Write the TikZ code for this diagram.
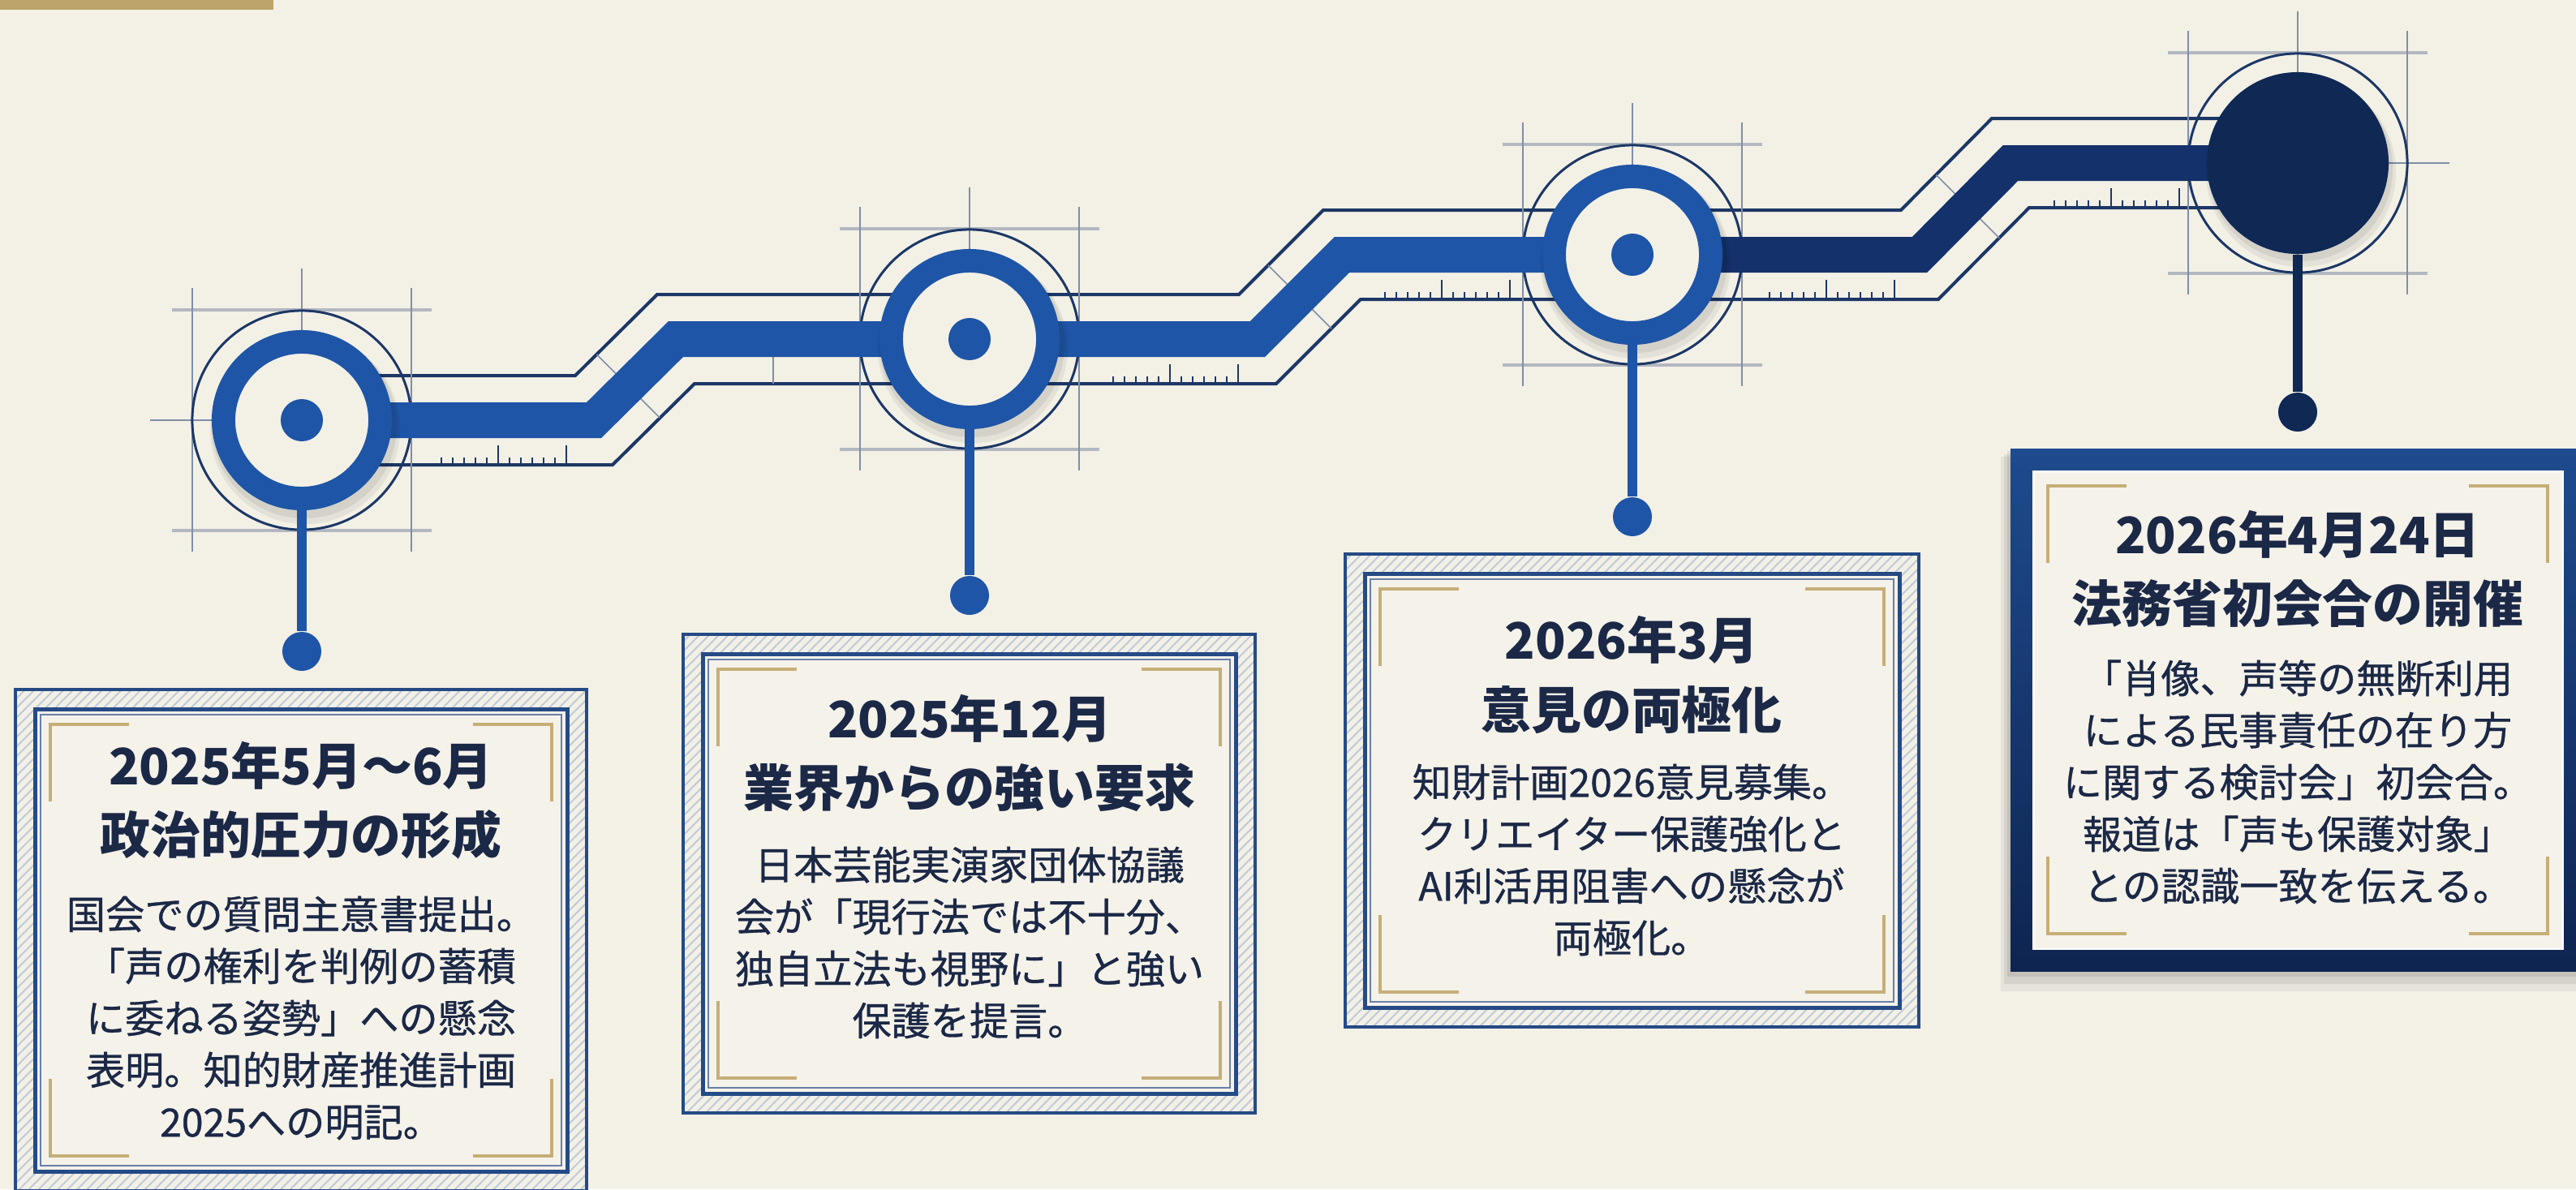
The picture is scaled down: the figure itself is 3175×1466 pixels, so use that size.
\documentclass[tikz,border=0pt]{standalone}
\usepackage{fontspec}
\setmainfont{Noto Sans CJK JP}
\newfontfamily\bodyf{Noto Sans CJK JP}[BoldFont={Noto Sans CJK JP},BoldFeatures={FakeBold=0.7}]
\usetikzlibrary{patterns.meta}
\newlength\pxu \setlength\pxu{0.01cm}
\definecolor{bgc}{HTML}{F3F0E6}
\definecolor{cardc}{HTML}{F5F2EA}
\definecolor{bandblue}{HTML}{1E55A6}
\definecolor{bandnavy}{HTML}{15316B}
\definecolor{deepnavy}{HTML}{0F2854}
\definecolor{linenavy}{HTML}{1C3766}
\definecolor{framec}{HTML}{254A85}
\definecolor{crossvc}{HTML}{7F8FA6}
\definecolor{crosshc}{HTML}{A3ABB7}
\definecolor{hatchc}{HTML}{BFCADA}
\definecolor{goldc}{HTML}{C6AE78}
\definecolor{barc}{HTML}{BCA46A}
\definecolor{textc}{HTML}{1B2846}
\definecolor{shadetop}{HTML}{1E4B8E}
\definecolor{shadebot}{HTML}{0E2450}
\tikzset{
  thinring/.style={draw=linenavy, line width=3\pxu},
  ringnode/.style={circle, inner sep=0pt, minimum size=1.93cm, draw=bandblue, line width=29\pxu, fill=bgc},
  endnode/.style={circle, inner sep=0pt, minimum size=2.24cm, fill=deepnavy},
  cdot/.style={circle, inner sep=0pt, minimum size=0.52cm, fill=bandblue},
  pindot/.style={circle, inner sep=0pt, minimum size=0.48cm, fill=#1},
  stemline/.style={line width=12\pxu, draw=#1},
  bandline/.style={line width=44\pxu, draw=#1, line join=miter},
  outl/.style={line width=4\pxu, draw=linenavy, line join=miter},
  crossv/.style={line width=1.6\pxu, draw=crossvc},
  crossh/.style={line width=4\pxu, draw=crosshc, opacity=.8},
  rulertick/.style={line width=1.8\pxu, draw=linenavy},
  bracket/.style={line width=4.5\pxu, draw=goldc},
  ttl/.style={text=textc, align=center, inner sep=0pt, font=\fontsize{17.6pt}{24.2pt}\selectfont\bfseries},
  bodytxt/.style={text=textc, align=center, inner sep=0pt, font=\bodyf\fontsize{13.7pt}{18.2pt}\selectfont\bfseries},
}
\newcommand\ruler[2]{%
  \foreach \k in {0,...,11}{%
    \pgfmathsetmacro\rtx{#1+14*\k}%
    \ifnum\k=5 \def\tkh{24}\else\ifnum\k=11 \def\tkh{24}\else\def\tkh{9}\fi\fi
    \draw[rulertick] (\rtx,#2) -- (\rtx,#2-\tkh);
  }%
}
\newcommand\crosshair[2]{%
  \draw[crossh] (#1-160,#2-136) -- (#1+160,#2-136);
  \draw[crossh] (#1-160,#2+136) -- (#1+160,#2+136);
  \draw[crossv] (#1-135,#2-163) -- (#1-135,#2+162);
  \draw[crossv] (#1+135,#2-163) -- (#1+135,#2+162);
  \draw[crossv] (#1,#2-187) -- (#1,#2+187);
  \draw[crossv] (#1-187,#2) -- (#1+187,#2);
}
\newcommand\card[4]{%
  \fill[bgc] (#1,#2) rectangle (#3,#4);
  \fill[pattern={Lines[angle=45,distance=2.4pt,line width=0.55pt]}, pattern color=hatchc] (#1,#2) rectangle (#3,#4);
  \draw[framec, line width=3.5\pxu] (#1,#2) rectangle (#3,#4);
  \draw[framec, line width=5\pxu, fill=cardc] (#1+24,#2+24) rectangle (#3-24,#4-24);
  \draw[framec!70, line width=1.6\pxu] (#1+31,#2+31) rectangle (#3-31,#4-31);
  \draw[bracket] (#1+43,#2+138) -- (#1+43,#2+43) -- (#1+140,#2+43);
  \draw[bracket] (#3-140,#2+43) -- (#3-43,#2+43) -- (#3-43,#2+138);
  \draw[bracket] (#1+43,#4-138) -- (#1+43,#4-43) -- (#1+140,#4-43);
  \draw[bracket] (#3-140,#4-43) -- (#3-43,#4-43) -- (#3-43,#4-138);
}
\newcommand\nodeshadow[2]{%
  \fill[black,opacity=.06] (#1+4,#2+11) circle[radius=1.17cm];
  \fill[black,opacity=.07] (#1+3,#2+7) circle[radius=1.14cm];
}
\begin{document}
\begin{tikzpicture}[x=0.01cm,y=-0.01cm]
\clip (0,0) rectangle (3175,1466);
\fill[bgc] (0,0) rectangle (3175,1466);
\fill[barc] (0,0) rectangle (337,12);

% centres and bends
\coordinate (p1) at (372,518);
\coordinate (p2) at (1195,418);
\coordinate (p3) at (2012,314);
\coordinate (p4) at (2832,201);
\coordinate (c1) at (732,518);
\coordinate (c2) at (833,418);
\coordinate (c3) at (1550,418);
\coordinate (c4) at (1654,314);
\coordinate (c5) at (2366,314);
\coordinate (c6) at (2478,201);

% parallel outline lines
\draw[outl] (372,463) -- (709,463) -- (810,363) -- (1527,363) -- (1631,259) -- (2343,259) -- (2455,146) -- (2832,146);
\draw[outl] (372,573) -- (755,573) -- (856,473) -- (1573,473) -- (1677,369) -- (2389,369) -- (2501,256) -- (2832,256);

% perpendicular marks on the diagonals
\draw[crossv] (735.5,437) -- (813.3,515);
\draw[crossv] (1563,327) -- (1641,405);
\draw[crossv] (2386.5,215.7) -- (2464.3,293.5);
\draw[crossv] (953,440) -- (953,473);

% rulers
\ruler{544}{573}
\ruler{1372}{473}
\ruler{1707}{369}
\ruler{2181}{369}
\ruler{2532}{256}

% crosshairs
\crosshair{372}{518}
\crosshair{1195}{418}
\crosshair{2012}{314}
\crosshair{2832}{201}

% thin circles
\foreach \p in {p1,p2,p3,p4} \draw[thinring] (\p) circle[radius=1.35cm];

% band
\draw[bandline=bandblue] (p1) -- (c1) -- (c2) -- (p2) -- (c3) -- (c4) -- (p3);
\draw[bandline=bandnavy] (p3) -- (c5) -- (c6) -- (p4);

% shadows
\nodeshadow{372}{518}
\nodeshadow{1195}{418}
\nodeshadow{2012}{314}
\nodeshadow{2832}{201}

% nodes
\node[ringnode] (n1) at (p1) {};
\node[ringnode] (n2) at (p2) {};
\node[ringnode] (n3) at (p3) {};
\node[endnode] (n4) at (p4) {};
\node[cdot] (m1) at (p1) {};
\node[cdot] (m2) at (p2) {};
\node[cdot] (m3) at (p3) {};

% pins
\node[pindot=bandblue] (d1) at (372,803) {};
\node[pindot=bandblue] (d2) at (1195,734) {};
\node[pindot=bandblue] (d3) at (2012,637) {};
\node[pindot=deepnavy] (d4) at (2832,508) {};
\draw[stemline=bandblue] (n1) -- (d1);
\draw[stemline=bandblue] (n2) -- (d2);
\draw[stemline=bandblue] (n3) -- (d3);
\draw[stemline=deepnavy] (n4) -- (d4);

% cards
\card{19}{850}{723}{1468}
\card{842}{782}{1547}{1372}
\card{1658}{683}{2365}{1266}

% highlighted card
\fill[black,opacity=.05] (2466,563) rectangle (3186,1222);
\fill[black,opacity=.07] (2470,560) rectangle (3186,1213);
\fill[black,opacity=.08] (2474,556) rectangle (3186,1204);
\shade[top color=shadetop, bottom color=shadebot] (2478,553) rectangle (3186,1197);
\fill[cardc] (2506,581) rectangle (3158,1169);
\draw[white!70!cardc, line width=3\pxu] (2506,581) rectangle (3158,1169);
\draw[bracket] (2524,694) -- (2524,599) -- (2621,599);
\draw[bracket] (3043,599) -- (3140,599) -- (3140,694);
\draw[bracket] (2524,1056) -- (2524,1151) -- (2621,1151);
\draw[bracket] (3043,1151) -- (3140,1151) -- (3140,1056);

% texts
\node[ttl] (t1) at (371,987) {2025年5月～6月\\政治的圧力の形成};
\node[bodytxt] (b1) at (371,1255) {国会での質問主意書提出。\\「声の権利を判例の蓄積\\に委ねる姿勢」への懸念\\表明。知的財産推進計画\\2025への明記。};
\node[ttl] (t2) at (1195,929) {2025年12月\\業界からの強い要求};
\node[bodytxt] (b2) at (1195,1162) {日本芸能実演家団体協議\\会が「現行法では不十分、\\独自立法も視野に」と強い\\保護を提言。};
\node[ttl] (t3) at (2011,832) {2026年3月\\意見の両極化};
\node[bodytxt] (b3) at (2011,1060) {知財計画2026意見募集。\\クリエイター保護強化と\\AI利活用阻害への懸念が\\両極化。};
\node[ttl] (t4) at (2832,701) {2026年4月24日\\法務省初会合の開催};
\node[bodytxt] (b4) at (2832,964) {「肖像、声等の無断利用\\による民事責任の在り方\\に関する検討会」初会合。\\報道は「声も保護対象」\\との認識一致を伝える。};
\end{tikzpicture}
\end{document}
